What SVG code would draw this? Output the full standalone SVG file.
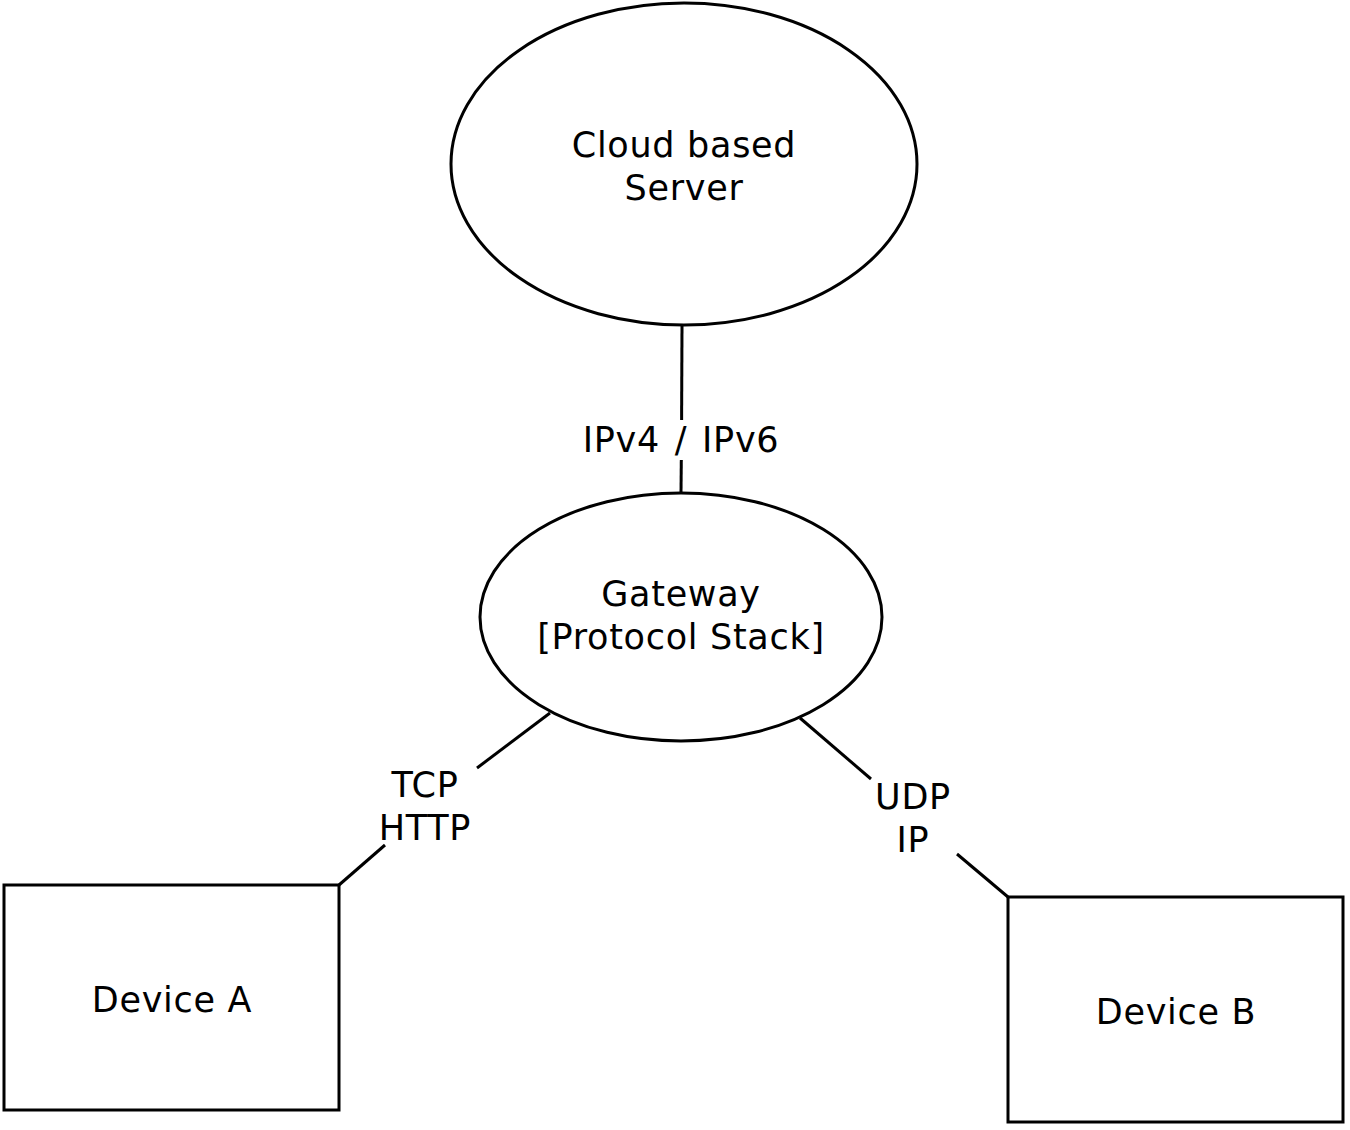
<svg xmlns="http://www.w3.org/2000/svg" width="1350" height="1130" viewBox="0 0 1350 1130">
<style>
.shape{fill:#fff;stroke:#000;stroke-width:3}
.edge{fill:none;stroke:#000;stroke-width:3}
text{font-family:"DejaVu Sans",Verdana,sans-serif;font-size:35px;fill:#000;text-anchor:middle;letter-spacing:0.7px}
</style>
<rect width="1350" height="1130" fill="#fff"/>
<g id="connectors">
<line class="edge" x1="682" y1="326" x2="681.6" y2="420"/>
<line class="edge" x1="681.3" y1="460" x2="681" y2="493"/>
<line class="edge" x1="550" y1="713" x2="477" y2="768"/>
<line class="edge" x1="385" y1="845" x2="339" y2="885"/>
<line class="edge" x1="800" y1="718" x2="871" y2="779"/>
<line class="edge" x1="957" y1="854" x2="1008" y2="897"/>
<text x="681" y="452" style="word-spacing:3px">IPv4 / IPv6</text>
<text x="425" y="797">TCP</text>
<text x="425" y="840">HTTP</text>
<text x="913" y="809">UDP</text>
<text x="913" y="852">IP</text>
</g>
<g id="cloud">
<ellipse class="shape" cx="684" cy="164" rx="233" ry="161"/>
<text x="684" y="157">Cloud based</text>
<text x="684" y="200">Server</text>
</g>
<g id="gateway">
<ellipse class="shape" cx="681" cy="617" rx="201" ry="124"/>
<text x="681" y="606">Gateway</text>
<text x="681" y="649">[Protocol Stack]</text>
</g>
<g id="deviceA">
<rect class="shape" x="4" y="885" width="335" height="225"/>
<text x="172" y="1012">Device A</text>
</g>
<g id="deviceB">
<rect class="shape" x="1008" y="897" width="335" height="225"/>
<text x="1176" y="1024">Device B</text>
</g>
</svg>
